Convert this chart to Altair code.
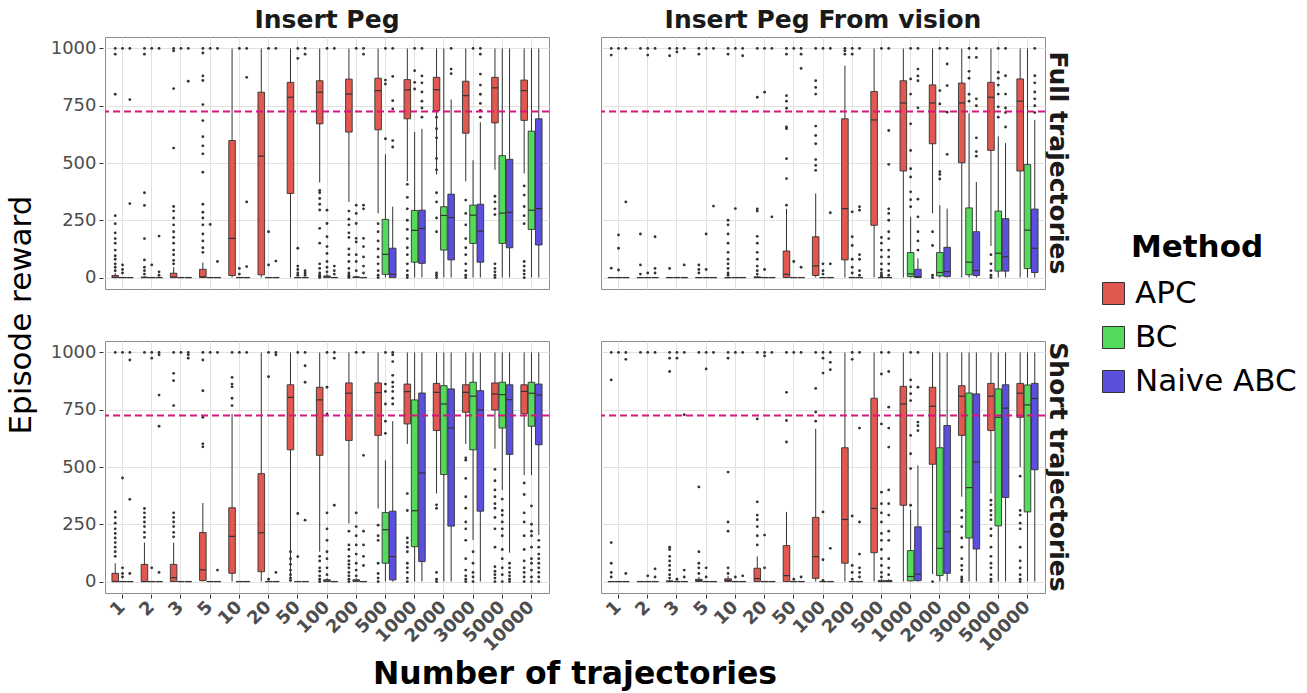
import altair as alt
import pandas as pd

# Number of demonstration trajectories (x categories)
N_TRAJ = ["1", "2", "3", "5", "10", "20", "50", "100", "200", "500",
          "1000", "2000", "3000", "5000", "10000"]
METHODS = ["APC", "BC", "Naive ABC"]
COLORS = ["#e0584f", "#52db5a", "#5b50dd"]
TASKS = ["Insert Peg", "Insert Peg From vision"]
SETTINGS = ["Full trajectories", "Short trajectories"]
THRESHOLD = 725

# Box statistics per category: (whisker low, q1, median, q3, whisker high)
Z = (0, 0, 0, 0, 0)

# ---- Full trajectories / Insert Peg ----
FULL_PEG_APC = [(0, 0, 1, 9, 20), (0, 0, 0, 2, 5), (0, 0, 2, 19, 45), (0, 0, 3, 36, 65),
                (0, 9, 171, 598, 1000), (0, 12, 530, 809, 1000), (0, 367, 787, 852, 1000),
                (415, 671, 809, 859, 1000), (330, 635, 801, 866, 1000), (280, 645, 816, 870, 1000),
                (420, 693, 819, 864, 1000), (450, 729, 820, 874, 1000), (420, 630, 794, 857, 1000),
                (470, 675, 828, 874, 1000), (454, 686, 816, 862, 1000)]
FULL_PEG_BC = [Z, Z, Z, Z, Z, Z, Z, (0, 0, 3, 7, 15), (0, 0, 1, 3, 8),
               (0, 14, 101, 254, 538), (0, 67, 206, 293, 635), (0, 120, 271, 309, 1000),
               (0, 149, 272, 316, 512), (0, 149, 281, 532, 1000), (0, 210, 294, 639, 1000)]
FULL_PEG_NAIVE = [Z, Z, Z, Z, Z, Z, Z, Z, Z,
                  (0, 0, 14, 128, 309), (0, 62, 214, 294, 649), (0, 77, 262, 364, 777),
                  (0, 67, 203, 320, 678), (0, 130, 284, 516, 1000), (0, 142, 301, 693, 1000)]

# ---- Full trajectories / Insert Peg From vision ----
FULL_VIS_APC = [Z, Z, Z, Z, Z, (0, 0, 0, 3, 8), (0, 0, 14, 116, 300), (0, 9, 51, 178, 367),
                (0, 77, 301, 693, 925), (0, 228, 688, 812, 1000), (0, 465, 762, 859, 1000),
                (280, 584, 762, 841, 1000), (0, 501, 762, 849, 1000), (138, 555, 787, 852, 1000),
                (0, 465, 770, 867, 1000)]
FULL_VIS_BC = [Z, Z, Z, Z, Z, Z, Z, Z, Z, (0, 0, 0, 0, 3),
               (0, 4, 16, 109, 265), (0, 7, 22, 109, 316), (0, 12, 67, 304, 717),
               (0, 28, 106, 290, 616), (0, 39, 207, 493, 1000)]
FULL_VIS_NAIVE = [Z, Z, Z, Z, Z, Z, Z, Z, Z, (0, 0, 0, 0, 3),
                  (0, 0, 4, 36, 84), (0, 4, 26, 132, 301), (0, 9, 30, 200, 417),
                  (0, 28, 91, 257, 587), (0, 22, 128, 299, 688)]

# ---- Short trajectories / Insert Peg ----
SHORT_PEG_APC = [(0, 0, 0, 36, 80), (0, 0, 0, 75, 170), (0, 0, 17, 75, 170), (0, 4, 51, 214, 343),
                 (0, 36, 197, 322, 732), (0, 43, 213, 471, 1000), (0, 575, 804, 859, 1000),
                 (130, 551, 793, 848, 1000), (254, 616, 822, 867, 1000), (319, 638, 825, 867, 1000),
                 (600, 688, 829, 862, 1000), (384, 659, 826, 865, 1000), (601, 739, 826, 859, 1000),
                 (580, 749, 819, 867, 1000), (464, 732, 830, 859, 1000)]
SHORT_PEG_BC = [Z, Z, Z, Z, Z, Z, Z, (0, 0, 3, 8, 15), (0, 0, 3, 8, 15),
                (0, 80, 226, 301, 529), (0, 152, 309, 793, 1000), (0, 467, 775, 855, 1000),
                (181, 575, 809, 870, 1000), (399, 670, 816, 870, 1000), (464, 678, 822, 870, 1000)]
SHORT_PEG_NAIVE = [Z, Z, Z, Z, Z, Z, Z, Z, Z,
                   (0, 7, 109, 307, 700), (0, 87, 474, 823, 1000), (0, 242, 670, 841, 1000),
                   (0, 307, 749, 833, 1000), (126, 555, 794, 859, 1000), (203, 597, 814, 862, 1000)]

# ---- Short trajectories / Insert Peg From vision ----
SHORT_VIS_APC = [Z, Z, (0, 0, 0, 3, 8), (0, 0, 5, 10, 20), (0, 0, 5, 12, 25), (0, 0, 13, 58, 110),
                 (0, 0, 26, 157, 304), (0, 14, 109, 280, 667), (0, 80, 271, 584, 1000),
                 (0, 126, 319, 800, 1000), (0, 333, 775, 852, 1000), (33, 512, 765, 848, 1000),
                 (370, 638, 809, 855, 1000), (384, 659, 809, 865, 1000), (500, 717, 822, 865, 1000)]
SHORT_VIS_BC = [Z, Z, Z, Z, Z, Z, Z, Z, Z, (0, 0, 0, 5, 10),
                (0, 3, 22, 135, 312), (0, 26, 145, 584, 1000), (0, 190, 410, 823, 1000),
                (0, 243, 717, 841, 1000), (0, 304, 771, 858, 1000)]
SHORT_VIS_NAIVE = [Z, Z, Z, Z, Z, Z, Z, Z, Z, (0, 0, 0, 5, 10),
                   (0, 4, 32, 239, 507), (0, 36, 217, 681, 1000), (0, 142, 522, 819, 1000),
                   (0, 367, 757, 859, 1000), (0, 488, 799, 865, 1000)]

# Outlying episodes per category
FULL_PEG_APC_OUT = [[30, 45, 60, 80, 95, 120, 150, 170, 195, 235, 270, 800, 975, 1000],
                    [15, 30, 45, 77, 170, 315, 370, 975, 1000],
                    [60, 75, 100, 120, 150, 175, 200, 230, 260, 290, 310, 565, 825, 990, 1000],
                    [110, 130, 160, 190, 230, 260, 285, 320, 460, 540, 575, 615, 685, 755, 860, 880, 980, 1000],
                    [], [], [],
                    [0, 5, 10, 20, 40, 60, 150, 215, 295, 320, 345, 370, 380],
                    [0, 5, 10, 20, 40, 70, 100, 125, 175, 195, 230, 255, 290],
                    [0, 10, 30, 60, 90, 125, 160, 200, 235],
                    [0, 10, 30, 60, 100, 130, 170, 210, 250, 300, 350, 407],
                    [0, 10, 20, 200, 260, 330, 370, 470, 520, 610, 650, 700],
                    [0, 10, 30, 60, 100, 130, 170, 230, 280, 338],
                    [0, 10, 25, 40, 60, 275, 300, 330, 355],
                    [0, 15, 30, 50, 70, 235, 270, 310, 360, 400]]
FULL_PEG_BC_OUT = [[20, 35, 55, 1000], [55, 1000], [1000], [232, 1000], [15, 40, 1000],
                   [55, 200, 1000], [10, 20, 35, 50, 128, 957, 1000],
                   [25, 45, 70, 105, 135, 178, 236, 294, 1000],
                   [30, 70, 100, 155, 171, 236, 280, 316, 1000],
                   [606, 845, 862, 1000], [823, 852, 903, 1000], [], [1000], [], []]
FULL_PEG_NAIVE_OUT = [[323, 777, 1000], [10, 25, 181, 1000], [857, 1000], [70, 1000],
                      [48, 330, 874, 1000], [72, 1000], [10, 20, 30, 975, 1000],
                      [15, 30, 50, 1000], [20, 50, 90, 135, 171, 300, 316, 975, 1000],
                      [570, 598, 736, 772, 878, 1000], [700, 740, 770, 810, 850, 880, 1000],
                      [890, 910, 1000], [700, 730, 760, 800, 840, 888, 975, 1000], [], []]

FULL_VIS_APC_OUT = [[41, 971, 1000], [15, 55, 190, 1000], [40, 968, 1000], [20, 35, 55, 975, 1000],
                    [10, 20, 40, 60, 80, 110, 150, 190, 230, 250, 975, 1000],
                    [15, 30, 50, 80, 110, 150, 180, 290, 300, 787, 1000],
                    [316, 432, 519, 650, 657, 739, 770, 794, 975, 1000],
                    [468, 490, 515, 584, 620, 661, 801, 830, 859, 1000],
                    [975, 990, 1000], [], [], [0, 10, 140, 200], [], [0, 10, 30, 60, 100], []]
FULL_VIS_BC_OUT = [[33, 128, 186, 1000], [20, 971, 1000], [985, 1000], [35, 190, 1000],
                   [301, 1000], [35, 809, 1000], [70, 1000], [15, 30, 60, 1000],
                   [20, 45, 80, 140, 178, 287, 975, 1000],
                   [5, 10, 20, 35, 60, 90, 120, 150, 175, 1000],
                   [309, 340, 374, 439, 475, 555, 671, 801, 867, 1000],
                   [430, 450, 462, 758, 816, 1000], [770, 800, 870, 900, 961, 1000],
                   [700, 745, 801, 840, 870, 896, 1000], []]
FULL_VIS_NAIVE_OUT = [[330, 1000], [20, 40, 178, 1000], [55, 1000], [312, 1000], [968, 1000],
                      [265, 1000], [45, 913, 975, 1000], [60, 283, 1000],
                      [10, 30, 80, 100, 294, 309, 1000],
                      [10, 30, 60, 90, 120, 170, 200, 250, 280, 300, 494, 642, 1000],
                      [120, 160, 200, 265, 342, 741, 859, 880, 910, 1000],
                      [538, 722, 838, 932, 1000], [530, 550, 610, 750, 780, 961, 1000],
                      [657, 720, 740, 801, 881, 1000], [720, 750, 780, 810, 850, 881, 1000]]

SHORT_PEG_APC_OUT = [[110, 130, 150, 170, 190, 210, 230, 255, 280, 304, 1000],
                     [193, 215, 240, 260, 280, 300, 319, 1000],
                     [195, 215, 240, 260, 280, 300, 768, 877, 909, 1000],
                     [588, 601, 717, 833, 967, 1000], [768, 800, 850, 862, 891, 1000], [],
                     [5, 15, 30, 50, 75, 100, 130], [0, 10, 25, 45, 60, 90, 110],
                     [0, 10, 25, 40, 60, 75, 90, 110, 140, 160, 220],
                     [0, 15, 35, 80, 180, 200, 246],
                     [0, 15, 40, 60, 80, 130, 150, 170, 190, 310, 384],
                     [0, 10, 40, 320, 335],
                     [0, 10, 25, 50, 100, 180, 230, 260, 320, 370, 450, 530, 540],
                     [0, 15, 30, 45, 65, 150, 230, 280, 320, 340, 370, 400, 440, 490],
                     [0, 20, 40, 60, 90, 140, 200, 260, 300, 380, 430]]
SHORT_PEG_BC_OUT = [[20, 35, 60, 452, 1000], [60, 975, 1000], [1000], [1000], [1000],
                    [10, 894, 1000], [109, 297, 1000],
                    [30, 60, 100, 130, 180, 230, 300, 732, 848, 1000],
                    [25, 50, 80, 120, 160, 200, 240, 300, 1000],
                    [647, 700, 775, 830, 862, 1000], [], [], [0, 20, 40, 80, 130],
                    [0, 30, 60, 100, 140, 200, 230, 260, 290, 310, 360],
                    [0, 20, 50, 80, 100, 150, 200, 220, 250, 330]]
SHORT_PEG_NAIVE_OUT = [[35, 359, 967, 1000], [40, 678, 814, 990, 1000], [975, 990, 1000],
                       [50, 1000], [1000], [40, 990, 1000], [268, 870, 942, 1000],
                       [333, 975, 1000], [70, 110, 160, 220, 551, 1000],
                       [775, 800, 830, 850, 870, 900, 960, 990, 1000], [], [], [],
                       [0, 10, 25, 40, 60, 80], [0, 20, 40, 60, 80, 100, 120, 150, 180]]

SHORT_VIS_APC_OUT = [[20, 40, 80, 170, 880, 1000], [1000],
                     [15, 30, 50, 70, 90, 110, 140, 150, 917, 975, 1000],
                     [35, 60, 80, 130, 413, 1000], [35, 60, 220, 260, 478, 975, 1000],
                     [160, 200, 240, 270, 290, 348, 710, 1000], [609, 703, 826, 1000],
                     [700, 740, 843, 1000], [], [], [], [0],
                     [0, 10, 20, 50, 70, 100, 150, 190, 240, 280, 310],
                     [0, 10, 30, 60, 80, 110, 150, 200, 230, 270, 290, 310, 335, 355],
                     [0, 10, 30, 60, 90, 150, 230, 255, 290, 310, 460]]
SHORT_VIS_BC_OUT = [[1000], [25, 1000], [10, 975, 1000], [20, 60, 928, 1000], [20, 1000],
                    [60, 203, 985, 1000], [10, 1000], [5, 95, 304, 910, 975, 1000],
                    [10, 40, 70, 286, 970, 1000],
                    [20, 40, 70, 100, 140, 180, 210, 260, 300, 340, 390, 688, 906, 1000],
                    [333, 493, 558, 638, 790, 820, 850, 880, 1000], [], [], [], []]
SHORT_VIS_NAIVE_OUT = [[35, 970, 1000], [20, 55, 1000], [20, 50, 728, 1000], [1000], [25, 1000],
                       [1000], [20, 1000], [145, 925, 957, 1000],
                       [20, 40, 60, 120, 260, 670, 1000],
                       [30, 60, 100, 180, 220, 290, 340, 400, 587, 670, 761, 917, 1000],
                       [659, 680, 696, 848, 1000], [], [], [], []]

PANELS = [
    ("Full trajectories", "Insert Peg",
     [FULL_PEG_APC, FULL_PEG_BC, FULL_PEG_NAIVE],
     [FULL_PEG_APC_OUT, FULL_PEG_BC_OUT, FULL_PEG_NAIVE_OUT]),
    ("Full trajectories", "Insert Peg From vision",
     [FULL_VIS_APC, FULL_VIS_BC, FULL_VIS_NAIVE],
     [FULL_VIS_APC_OUT, FULL_VIS_BC_OUT, FULL_VIS_NAIVE_OUT]),
    ("Short trajectories", "Insert Peg",
     [SHORT_PEG_APC, SHORT_PEG_BC, SHORT_PEG_NAIVE],
     [SHORT_PEG_APC_OUT, SHORT_PEG_BC_OUT, SHORT_PEG_NAIVE_OUT]),
    ("Short trajectories", "Insert Peg From vision",
     [SHORT_VIS_APC, SHORT_VIS_BC, SHORT_VIS_NAIVE],
     [SHORT_VIS_APC_OUT, SHORT_VIS_BC_OUT, SHORT_VIS_NAIVE_OUT]),
]

rows = []
for setting, task, stats, outs in PANELS:
    for method, mstats, mouts in zip(METHODS, stats, outs):
        for n, (lo, q1, med, q3, hi), ovals in zip(N_TRAJ, mstats, mouts):
            rows.append(dict(setting=setting, task=task, n=n, method=method, kind="box",
                             lo=lo, q1=q1, med=med, q3=q3, hi=hi, value=None))
            for v in ovals:
                rows.append(dict(setting=setting, task=task, n=n, method=method, kind="out",
                                 lo=None, q1=None, med=None, q3=None, hi=None, value=v))
df = pd.DataFrame(rows)

FONT = "DejaVu Sans"
DARK = "#333333"

x_enc = alt.X("n:N", sort=N_TRAJ, title=None,
              scale=alt.Scale(paddingInner=0, paddingOuter=0.1),
              axis=alt.Axis(labelAngle=-45, labelAlign="right", labelBaseline="middle",
                            labelFontSize=18, labelFontWeight="bold", labelColor="#4d4d4d",
                            labelPadding=6, tickColor=DARK, tickSize=4, domain=False,
                            grid=True, gridColor="#e2e2e2"))
xo_enc = alt.XOffset("method:N", sort=METHODS,
                     scale=alt.Scale(paddingInner=0.1, paddingOuter=0.55))

y_axis = alt.Axis(values=list(range(0, 1001, 125)), format="d",
                  labelExpr="datum.value % 250 === 0 ? datum.label : ''",
                  labelFontSize=18, labelColor="#4d4d4d", labelPadding=3,
                  tickColor=DARK, tickSize=4,
                  tickOpacity={"condition": {"test": "datum.value % 250 === 0", "value": 1},
                               "value": 0},
                  domain=False, grid=True, gridColor="#e2e2e2")
y_scale = alt.Scale(domain=[-50, 1050], nice=False, zero=False)

base = alt.Chart().encode(x=x_enc, xOffset=xo_enc)
boxes_only = alt.datum.kind == "box"

whiskers = base.transform_filter(boxes_only).mark_rule(color=DARK, strokeWidth=1).encode(
    y=alt.Y("lo:Q", scale=y_scale, axis=y_axis, title=None), y2="hi:Q")

boxes = base.transform_filter(boxes_only).mark_bar(stroke=DARK, strokeWidth=0.9).encode(
    y=alt.Y("q1:Q", scale=y_scale, axis=y_axis, title=None), y2="q3:Q",
    color=alt.Color("method:N", sort=METHODS,
                    scale=alt.Scale(domain=METHODS, range=COLORS),
                    legend=alt.Legend(title="Method", orient="none", legendX=993, legendY=196,
                                      titleFontSize=31, titleFontWeight="bold",
                                      titleColor="black", titlePadding=14,
                                      titleAnchor="middle", titleLimit=400,
                                      labelFontSize=31, labelColor="black", labelLimit=400,
                                      symbolType="square", symbolSize=484,
                                      symbolStrokeColor=DARK, symbolStrokeWidth=1,
                                      symbolOpacity=1, rowPadding=12, labelOffset=6)))

medians = base.transform_filter(boxes_only).mark_tick(
    color=DARK, thickness=1.2, size=6.6, opacity=1).encode(
    y=alt.Y("med:Q", scale=y_scale, axis=y_axis, title=None))

outliers = base.transform_filter(alt.datum.kind == "out").mark_circle(
    size=8, color=DARK, opacity=1).encode(
    y=alt.Y("value:Q", scale=y_scale, axis=y_axis, title=None))

threshold = alt.Chart().transform_filter(
    (alt.datum.kind == "box") & (alt.datum.n == "1") & (alt.datum.method == "APC")
).mark_rule(color="#d6177f", strokeDash=[7, 4], strokeWidth=2).encode(y=alt.datum(THRESHOLD))

layered = alt.layer(whiskers, boxes, medians, outliers, threshold, data=df).properties(
    width=444, height=252)

chart = layered.facet(
    row=alt.Row("setting:N", sort=SETTINGS, title="Episode reward",
                header=alt.Header(labelOrient="right", labelAngle=90,
                                  labelFontSize=25, labelFontWeight="bold",
                                  labelColor="#1a1a1a", labelPadding=-2,
                                  titleOrient="left", titleFontSize=31,
                                  titleFontWeight="normal", titleColor="black",
                                  titlePadding=2)),
    column=alt.Column("task:N", sort=TASKS, title="Number of trajectories",
                      header=alt.Header(labelOrient="top", labelFontSize=25,
                                        labelFontWeight="bold", labelColor="#1a1a1a",
                                        labelPadding=3, titleOrient="bottom",
                                        titleFontSize=31.5, titleFontWeight="bold",
                                        titleColor="black", titlePadding=-6)),
    spacing={"row": 50, "column": 48},
).configure(font=FONT).configure_view(
    stroke="#8c8c8c", strokeWidth=1
).configure_axis(labelFont=FONT, titleFont=FONT).properties(
    background="white", padding={"left": 5, "top": 8, "right": 5, "bottom": 5})

chart.save("out.html", embed_options={"renderer": "svg", "actions": False})
